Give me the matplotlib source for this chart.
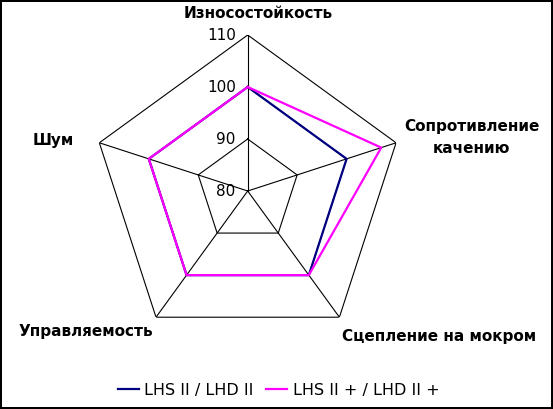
import numpy as np
import matplotlib
matplotlib.use('Agg')
import matplotlib.pyplot as plt
from matplotlib.transforms import offset_copy

plt.rcParams['font.family'] = ['DejaVu Sans']

# данные
categories = ['Износостойкость', 'Сопротивление\nкачению', 'Сцепление на мокром',
              'Управляемость', 'Шум']
series_names = ['LHS II / LHD II', 'LHS II + / LHD II +']
lhs_ii = [100, 100, 100, 100, 100]
lhs_ii_plus = [100, 107, 100, 100, 100]
r_ticks = [80, 90, 100, 110]

W, H = 553, 409
fig = plt.figure(figsize=(W / 100, H / 100), dpi=100)
fig.patch.set_edgecolor('black')
fig.patch.set_linewidth(1.5)

# центр диаграммы и радиус в пикселях
cx, cy, rad = 247.7, 191, 156
ax = fig.add_axes([(cx - rad) / W, (H - cy - rad) / H, 2 * rad / W, 2 * rad / H],
                  projection='polar')
ax.set_theta_offset(np.pi / 2)
ax.set_theta_direction(-1)
ax.set_ylim(r_ticks[0], r_ticks[-1])
ax.grid(False)
ax.spines['polar'].set_visible(False)
ax.set_xticks([])
ax.set_yticks([])
ax.patch.set_alpha(0)

n = len(categories)
angles = np.linspace(0, 2 * np.pi, n, endpoint=False)
closed = np.append(angles, angles[0])

# пятиугольная сетка
for r in r_ticks[1:]:
    ax.plot(closed, [r] * (n + 1), color='black', lw=0.8, zorder=1)
for a in angles:
    ax.plot([a, a], [r_ticks[0], r_ticks[-1]], color='black', lw=0.8, zorder=1)

# подписи шкалы
tick_tr = offset_copy(ax.transData, fig=fig, x=-12, y=0, units='dots')
for r in r_ticks:
    ax.text(0, r, str(r), transform=tick_tr, ha='right', va='center', fontsize=11)

# серии
colors = ['#000080', '#FF00FF']
handles = []
for vals, name, c in zip([lhs_ii, lhs_ii_plus], series_names, colors):
    ln, = ax.plot(closed, vals + vals[:1], color=c, lw=1.6, label=name, zorder=3)
    handles.append(ln)

# подписи категорий
label_style = [
    ((10, 21), 'center'),
    ((8, 5), 'left'),
    ((3, -19), 'left'),
    ((-3, -14), 'right'),
    ((-25, 2), 'right'),
]
for a, name, (off, ha) in zip(angles, categories, label_style):
    ax.annotate(name, xy=(a, r_ticks[-1]), xytext=off, textcoords='offset pixels',
                ha=ha, va='center', fontsize=11, fontweight='bold',
                multialignment='center', linespacing=1.6, annotation_clip=False)

fig.legend(handles=handles, loc='center', bbox_to_anchor=(0.504, 19 / H), ncol=2,
           frameon=False, fontsize=11.5, handlelength=1.3, handletextpad=0.35,
           columnspacing=0.8)

fig.savefig('out.png', dpi=100)
